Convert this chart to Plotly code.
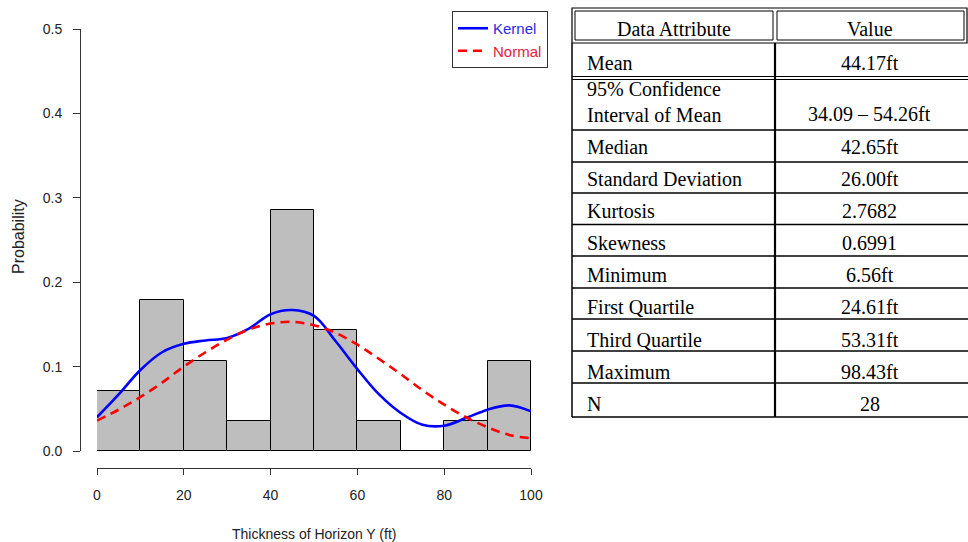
import plotly.graph_objects as go

# ---------------- data ----------------
bin_left = [0, 10, 20, 30, 40, 50, 60, 70, 80, 90]
bin_width = 10
bin_prob = [0.0714, 0.1786, 0.1071, 0.0357, 0.2857, 0.1429, 0.0357, 0.0, 0.0357, 0.1071]

curve_x = [0, 5, 10, 15, 20, 25, 30, 35, 40, 45, 50, 55, 60, 65, 70, 75, 80, 85, 90, 95, 100]
kernel_y = [0.040, 0.067, 0.096, 0.117, 0.127, 0.131, 0.134, 0.145, 0.162, 0.167, 0.160,
            0.130, 0.097, 0.067, 0.045, 0.031, 0.030, 0.039, 0.049, 0.054, 0.047]
normal_y = [0.036, 0.049, 0.064, 0.081, 0.100, 0.117, 0.132, 0.144, 0.151, 0.153, 0.149,
            0.140, 0.126, 0.109, 0.091, 0.072, 0.055, 0.040, 0.028, 0.019, 0.015]

x_ticks = [0, 20, 40, 60, 80, 100]
y_ticks = [0.0, 0.1, 0.2, 0.3, 0.4, 0.5]

table_header = ["Data Attribute", "Value"]
table_attr = ["Mean", "95% Confidence<br>Interval of Mean", "Median", "Standard Deviation",
              "Kurtosis", "Skewness", "Minimum", "First Quartile", "Third Quartile",
              "Maximum", "N"]
table_value = ["44.17ft", "34.09 \u2013 54.26ft", "42.65ft", "26.00ft", "2.7682", "0.6991",
               "6.56ft", "24.61ft", "53.31ft", "98.43ft", "28"]

# ---------------- layout helpers ----------------
W, H = 968, 542
def px(xp):
    return xp / W
def py(yp):
    return 1 - yp / H

SANS = "Liberation Sans, Arial, sans-serif"
SERIF = "Liberation Serif, Times New Roman, serif"

fig = go.Figure()

fig.add_trace(go.Bar(
    x=[l + bin_width / 2 for l in bin_left], y=bin_prob, width=bin_width,
    marker=dict(color="#bebebe", line=dict(color="#000000", width=1)),
    showlegend=False, hoverinfo="skip"))

fig.add_trace(go.Scatter(
    x=curve_x, y=kernel_y, mode="lines", line=dict(color="#0000ff", width=2.6, shape="spline", smoothing=1.0),
    name="<span style='color:#2a2ae6'>Kernel</span>"))
fig.add_trace(go.Scatter(
    x=curve_x, y=normal_y, mode="lines",
    line=dict(color="#ff0000", width=2.6, dash="9px,6px", shape="spline"),
    name="<span style='color:#e8203a'>Normal</span>"))

fig.update_layout(
    width=W, height=H, margin=dict(l=0, r=0, t=0, b=0, autoexpand=False),
    paper_bgcolor="white", plot_bgcolor="white",
    bargap=0, showlegend=True,
    legend=dict(x=px(548), xanchor="right", y=py(11), yanchor="top",
                bordercolor="#333333", borderwidth=1, bgcolor="white",
                font=dict(family=SANS, size=15), tracegroupgap=2, itemwidth=30),
    xaxis=dict(domain=[px(97), px(531)], range=[0, 100], anchor="free", position=py(468),
               tickvals=x_ticks, ticks="outside", ticklen=6, tickcolor="#333333",
               showline=True, linecolor="#333333", linewidth=1, showgrid=False, zeroline=False,
               tickfont=dict(family=SANS, size=14, color="#222222"), ticklabelstandoff=8),
    yaxis=dict(domain=[py(451), py(29)], range=[0, 0.5], anchor="free", position=px(80),
               tickvals=y_ticks, tickformat=".1f", ticks="outside", ticklen=7, tickcolor="#333333",
               showline=True, linecolor="#333333", linewidth=1, showgrid=False, zeroline=False,
               tickfont=dict(family=SANS, size=14, color="#222222"), ticklabelstandoff=8),
)

anns = []
anns.append(dict(text="Thickness of Horizon Y (ft)", x=px(314), y=py(534), xref="paper", yref="paper",
                 xanchor="center", yanchor="middle",
                 showarrow=False, font=dict(family=SANS, size=14, color="#222222")))
anns.append(dict(text="Probability", x=px(19), y=py(237), xref="paper", yref="paper", textangle=-90,
                 xanchor="center", yanchor="middle",
                 showarrow=False, font=dict(family=SANS, size=16, color="#222222")))

# ---------------- table ----------------
shapes = []
def hline(x0, x1, y, w=1):
    shapes.append(dict(type="line", xref="paper", yref="paper", x0=px(x0), x1=px(x1), y0=py(y), y1=py(y),
                       line=dict(color="black", width=w)))
def vline(x, y0, y1, w=1):
    shapes.append(dict(type="line", xref="paper", yref="paper", x0=px(x), x1=px(x), y0=py(y0), y1=py(y1),
                       line=dict(color="black", width=w)))
def rect(x0, y0, x1, y1, w=1):
    shapes.append(dict(type="rect", xref="paper", yref="paper", x0=px(x0), x1=px(x1), y0=py(y0), y1=py(y1),
                       line=dict(color="black", width=w)))

TL, TM, TR = 572, 775, 968
rect(TL, 8, 967, 43, 1.2)
rect(TL + 3, 11, 773, 40, 1)
rect(777, 11, 964, 40, 1)
vline(TL, 43, 417, 1.5)
vline(TM, 43, 417, 2.2)
hline(TL, TR, 76.5, 1.2)
hline(TL, TR, 79.5, 1.2)
for yb in [130, 162, 193, 224.5, 256, 288, 319, 351, 383, 417]:
    hline(TL, TR, yb, 1.3)

header_y = 29
anns.append(dict(text=table_header[0], x=px((TL + TM) / 2), y=py(header_y), xref="paper", yref="paper",
                 xanchor="center", yanchor="middle",
                 showarrow=False, font=dict(family=SERIF, size=20, color="black")))
anns.append(dict(text=table_header[1], x=px((TM + TR) / 2 - 2), y=py(header_y), xref="paper", yref="paper",
                 xanchor="center", yanchor="middle",
                 showarrow=False, font=dict(family=SERIF, size=20, color="black")))

row_y = [63, 102, 147, 179, 211, 243, 275, 307, 340, 372, 404]
value_y = [63, 114, 147, 179, 211, 243, 275, 307, 340, 372, 404]
for a, v, ya, yv in zip(table_attr, table_value, row_y, value_y):
    anns.append(dict(text=a, x=px(585), y=py(ya), xref="paper", yref="paper",
                     xanchor="left", yanchor="middle", align="left",
                     showarrow=False, font=dict(family=SERIF, size=20, color="black")))
    anns.append(dict(text=v, x=px((TM + TR) / 2 - 2), y=py(yv), xref="paper", yref="paper",
                     xanchor="center", yanchor="middle",
                     showarrow=False, font=dict(family=SERIF, size=20, color="black")))

fig.update_layout(annotations=anns, shapes=shapes)
fig.write_html("out.html",
               post_script="document.documentElement.style.margin='0';"
                           "document.body.style.margin='0';"
                           "document.body.style.overflow='hidden';")
